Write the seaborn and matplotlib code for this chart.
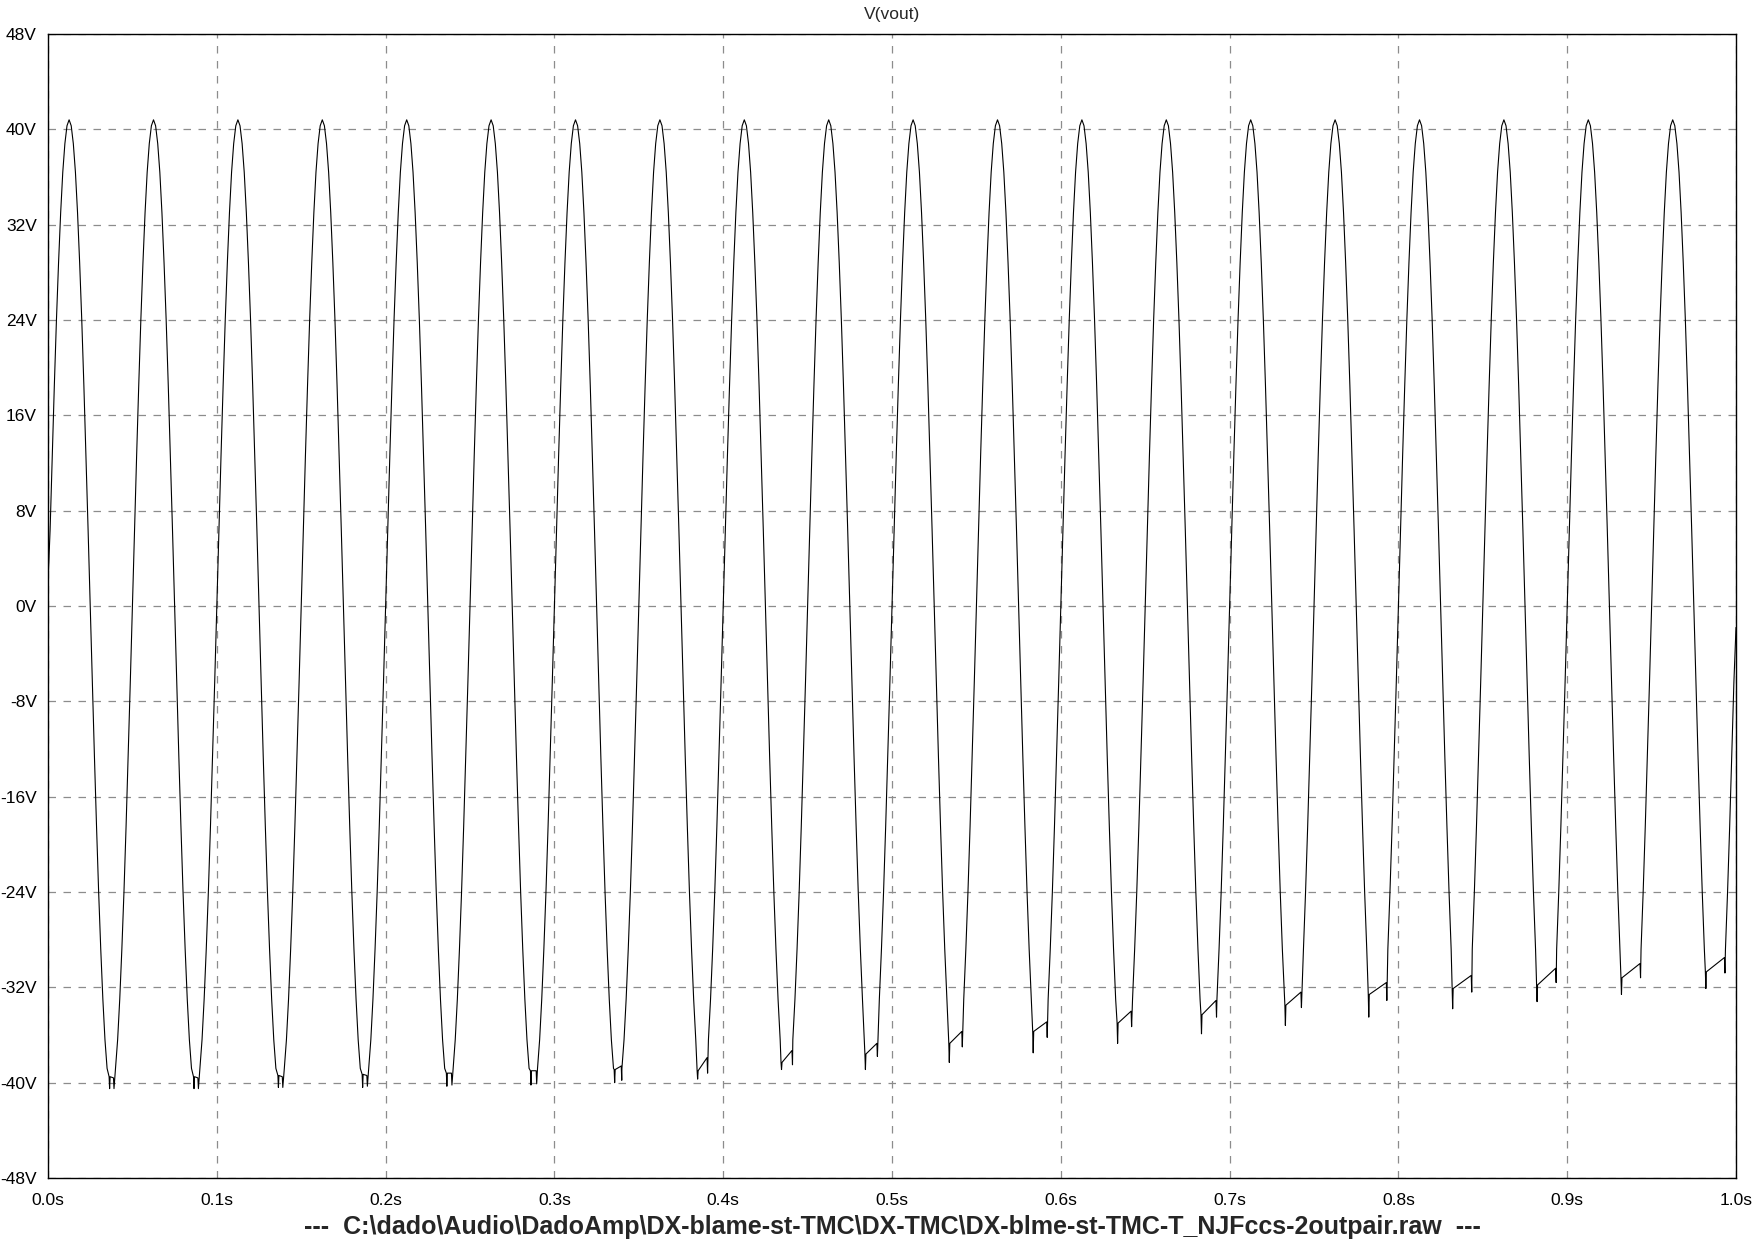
import numpy as np
import pandas as pd
import seaborn as sns
import matplotlib.pyplot as plt

cycle_ms = np.arange(0, 50, 1.25)
cycle_v = [0.0, 6.4, 12.6, 18.5, 24.0, 28.8, 33.0, 36.4, 38.8, 40.3,
           40.8, 40.3, 38.8, 36.4, 33.0, 28.8, 24.0, 18.5, 12.6, 6.4,
           0.0, -6.4, -12.6, -18.5, -24.0, -28.8, -33.0, -36.4, -38.8, -40.3,
           -40.8, -40.3, -38.8, -36.4, -33.0, -28.8, -24.0, -18.5, -12.6, -6.4]
v_start = 2.0
v_end = -1.8

# negative half-wave distortion, one entry per cycle (20 cycles)
trough_min = [-40.5, -40.5, -40.4, -40.4, -40.3, -40.2, -40.0, -39.7, -38.9, -38.9,
              -38.3, -37.5, -36.7, -35.9, -35.2, -34.5, -33.8, -33.2, -32.6, -32.1]
clip_lo = [-39.5, -39.5, -39.4, -39.3, -39.2, -39.0, -38.9, -39.0, -38.3, -37.6,
           -36.7, -35.7, -35.0, -34.3, -33.5, -32.6, -32.1, -31.8, -31.2, -30.7]
clip_hi = [-39.6, -39.6, -39.5, -39.4, -39.2, -39.0, -38.6, -37.9, -37.3, -36.7,
           -35.7, -34.9, -34.0, -33.1, -32.4, -31.6, -31.0, -30.4, -30.0, -29.5]
spike_lo = [-40.5, -40.5, -40.4, -40.3, -40.2, -40.1, -39.8, -39.2, -38.5, -37.8,
            -37.0, -36.2, -35.3, -34.5, -33.7, -33.1, -32.4, -31.6, -31.2, -30.8]
clip_width_ms = [2.6, 2.6, 2.6, 2.8, 3.0, 3.4, 4.2, 5.9, 6.5, 7.1,
                 7.7, 8.3, 8.3, 8.9, 9.5, 10.7, 11.3, 11.3, 11.3, 11.3]

y_ticks = [-48, -40, -32, -24, -16, -8, 0, 8, 16, 24, 32, 40, 48]
x_ticks = [0.0, 0.1, 0.2, 0.3, 0.4, 0.5, 0.6, 0.7, 0.8, 0.9, 1.0]
raw_file = '---  C:\\dado\\Audio\\DadoAmp\\DX-blame-st-TMC\\DX-TMC\\DX-blme-st-TMC-T_NJFccs-2outpair.raw  ---'

# build the trace
pts = []
for k in range(len(trough_min)):
    start = k * 50.0
    t0 = start + 37.5
    half = clip_width_ms[k] / 2
    for s, v in zip(cycle_ms, cycle_v):
        t = start + s
        if abs(t - t0) > half + 0.35:
            pts.append((t, v))
    pts += [(t0 - half, clip_lo[k]), (t0 - half + 0.3, trough_min[k]),
            (t0 - half + 0.6, clip_lo[k]), (t0 + half, clip_hi[k]),
            (t0 + half + 0.3, spike_lo[k])]
pts.sort()
pts[0] = (0.0, v_start)
pts.append((1000.0, v_end))
df = pd.DataFrame(pts, columns=['t', 'v'])
df['t'] = df['t'] / 1000

sns.set_style('white')
plt.rcParams['font.family'] = ['Liberation Sans', 'DejaVu Sans']

fig = plt.figure(figsize=(17.54, 12.40), dpi=100)
ax = fig.add_axes([48 / 1754, 1 - 1178 / 1240, (1736 - 48) / 1754, (1178 - 34) / 1240])

sns.lineplot(data=df, x='t', y='v', ax=ax, estimator=None, sort=False,
             color='black', linewidth=0.8, zorder=3)

ax.set_xlim(0, 1)
ax.set_ylim(-48, 48)
ax.set_yticks(y_ticks)
ax.set_yticklabels([f'{v}V' for v in y_ticks])
ax.set_xticks(x_ticks)
ax.set_xticklabels([f'{x:.1f}s' for x in x_ticks])
ax.set_xlabel('')
ax.set_ylabel('')

ax.grid(True, color='#8c8c8c', linestyle=(0, (6, 6)), linewidth=0.9)
ax.set_axisbelow(True)
for sp in ax.spines.values():
    sp.set_color('black')
    sp.set_linewidth(1.0)
    sp.set_visible(True)
ax.tick_params(axis='both', direction='out', length=7.5, width=0.8, color='black',
               labelsize=12.5, labelcolor='black')
ax.tick_params(axis='y', pad=0.5)
ax.tick_params(axis='x', pad=3)

fig.text(0.5 * (48 + 1736) / 1754, 1 - 14 / 1240, 'V(vout)', ha='center', va='center', fontsize=12.5)
fig.text(0.5 * (48 + 1736) / 1754, 1 - 1227 / 1240, raw_file, ha='center', va='center',
         fontsize=18, fontweight='bold')

fig.savefig('out.png', dpi=100)
